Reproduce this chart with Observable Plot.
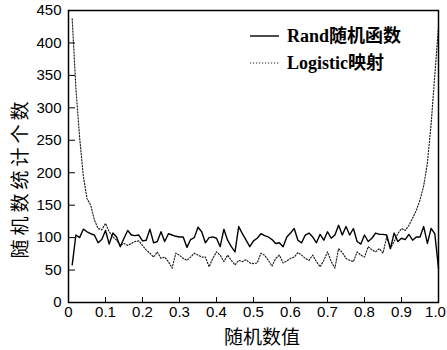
<!DOCTYPE html>
<html><head><meta charset="utf-8">
<script src="https://cdn.jsdelivr.net/npm/d3@7"></script>
<script src="https://cdn.jsdelivr.net/npm/@observablehq/plot@0.6"></script>
<style>
body{margin:0;background:#fff}
#wrap{position:relative;width:447px;height:350px;overflow:hidden}
.t{position:absolute;font-family:"Noto Sans CJK SC",sans-serif;font-size:19px;color:#000;white-space:nowrap;line-height:1}
.lg{position:absolute;font-family:"Liberation Serif","Noto Sans CJK SC",serif;font-weight:bold;font-size:18px;color:#000;white-space:nowrap;line-height:1}
</style></head><body><div id="wrap"></div>
<script>
const xValues = [0.01,0.02,0.03,0.04,0.05,0.06,0.07,0.08,0.09,0.10,
0.11,0.12,0.13,0.14,0.15,0.16,0.17,0.18,0.19,0.20,
0.21,0.22,0.23,0.24,0.25,0.26,0.27,0.28,0.29,0.30,
0.31,0.32,0.33,0.34,0.35,0.36,0.37,0.38,0.39,0.40,
0.41,0.42,0.43,0.44,0.45,0.46,0.47,0.48,0.49,0.50,
0.51,0.52,0.53,0.54,0.55,0.56,0.57,0.58,0.59,0.60,
0.61,0.62,0.63,0.64,0.65,0.66,0.67,0.68,0.69,0.70,
0.71,0.72,0.73,0.74,0.75,0.76,0.77,0.78,0.79,0.80,
0.81,0.82,0.83,0.84,0.85,0.86,0.87,0.88,0.89,0.90,
0.91,0.92,0.93,0.94,0.95,0.96,0.97,0.98,0.99,1.00];
const randValues = [58,104,100,113,109,106,104,92,97,111,
90,107,101,86,99,111,104,103,104,95,
96,113,92,94,109,94,106,104,102,101,
101,85,97,100,116,109,92,100,101,99,
86,113,96,86,78,117,106,96,86,95,
99,106,103,101,97,91,92,86,101,107,
114,96,92,104,107,101,92,105,96,109,
99,104,119,104,117,104,114,94,90,104,
94,99,107,105,105,104,83,107,94,99,
97,105,96,101,101,117,91,114,106,53];
const logisticValues = [437,330,255,195,160,150,127,114,112,122,
109,101,96,88,91,88,91,94,95,88,
81,76,70,78,68,70,63,53,76,73,
68,65,70,76,73,70,70,55,68,78,
73,63,73,65,58,65,63,66,61,60,
61,76,73,65,56,68,73,61,64,68,
70,77,73,68,65,73,63,55,65,78,
63,53,83,77,68,65,63,78,73,70,
86,81,78,83,76,101,83,94,106,114,
111,119,130,142,158,180,215,275,350,425];
const xTicks = [0,0.1,0.2,0.3,0.4,0.5,0.6,0.7,0.8,0.9,1.0];
const xTickLabels = ["0","0.1","0.2","0.3","0.4","0.5","0.6","0.7","0.8","0.9","1.0"];
const yTicks = [0,50,100,150,200,250,300,350,400,450];
const seriesNames = ["Rand随机函数","Logistic映射"];
const xTitle = "随机数值";
const yTitle = "随机数统计个数";

const randData = xValues.map((x,i)=>({x, y: randValues[i]}));
const logData = xValues.map((x,i)=>({x, y: logisticValues[i]}));
const lastTick = xTicks[xTicks.length - 1];
const innerTicks = xTicks.slice(0, -1);

const chart = Plot.plot({
  width: 447, height: 350,
  marginLeft: 68, marginRight: 9, marginTop: 10, marginBottom: 48,
  x: {domain: [0, 1]},
  y: {domain: [0, 450]},
  style: {fontFamily: "'Liberation Sans', Arial, sans-serif", fontSize: "15px", color: "#000", background: "#fff"},
  marks: [
    Plot.line(logData, {x: "x", y: "y", stroke: "#222", strokeWidth: 1.2, strokeDasharray: "1.2,1.8"}),
    Plot.line(randData, {x: "x", y: "y", stroke: "#000", strokeWidth: 1.4}),
    Plot.frame({stroke: "#000", strokeWidth: 1.5}),
    Plot.axisX(innerTicks, {tickSize: -5, tickPadding: 9, tickFormat: (d) => xTickLabels[xTicks.indexOf(d)], label: null, fontSize: 15}),
    Plot.axisX([lastTick], {tickSize: 0, tickPadding: 4, dx: -3, tickFormat: (d) => xTickLabels[xTicks.indexOf(d)], label: null, fontSize: 15}),
    Plot.axisY(yTicks, {tickSize: -7, tickPadding: 14, label: null, fontSize: 15})
  ]
});
const wrap = document.getElementById("wrap");
wrap.appendChild(chart);

function addDiv(cls, text, css){
  const d = document.createElement("div");
  d.className = cls; d.textContent = text; d.style.cssText = css;
  wrap.appendChild(d); return d;
}
addDiv("t", xTitle, "left:262px;top:326px;transform:translateX(-50%);");
addDiv("t", yTitle, "left:18px;top:178px;letter-spacing:4px;transform:translate(-50%,-50%) rotate(-90deg);");

// legend
const ns = "http://www.w3.org/2000/svg";
const lsvg = document.createElementNS(ns, "svg");
lsvg.setAttribute("width", 447); lsvg.setAttribute("height", 350);
lsvg.style.cssText = "position:absolute;left:0;top:0;pointer-events:none";
[[36, null, 1.4], [63, "1.2,1.8", 1.2]].forEach(([y, dash, w]) => {
  const l = document.createElementNS(ns, "line");
  l.setAttribute("x1", 250); l.setAttribute("x2", 279);
  l.setAttribute("y1", y); l.setAttribute("y2", y);
  l.setAttribute("stroke", dash ? "#222" : "#000");
  l.setAttribute("stroke-width", w);
  if (dash) l.setAttribute("stroke-dasharray", dash);
  lsvg.appendChild(l);
});
wrap.appendChild(lsvg);
addDiv("lg", seriesNames[0], "left:287px;top:27px;");
addDiv("lg", seriesNames[1], "left:287px;top:54px;");
</script></body></html>
